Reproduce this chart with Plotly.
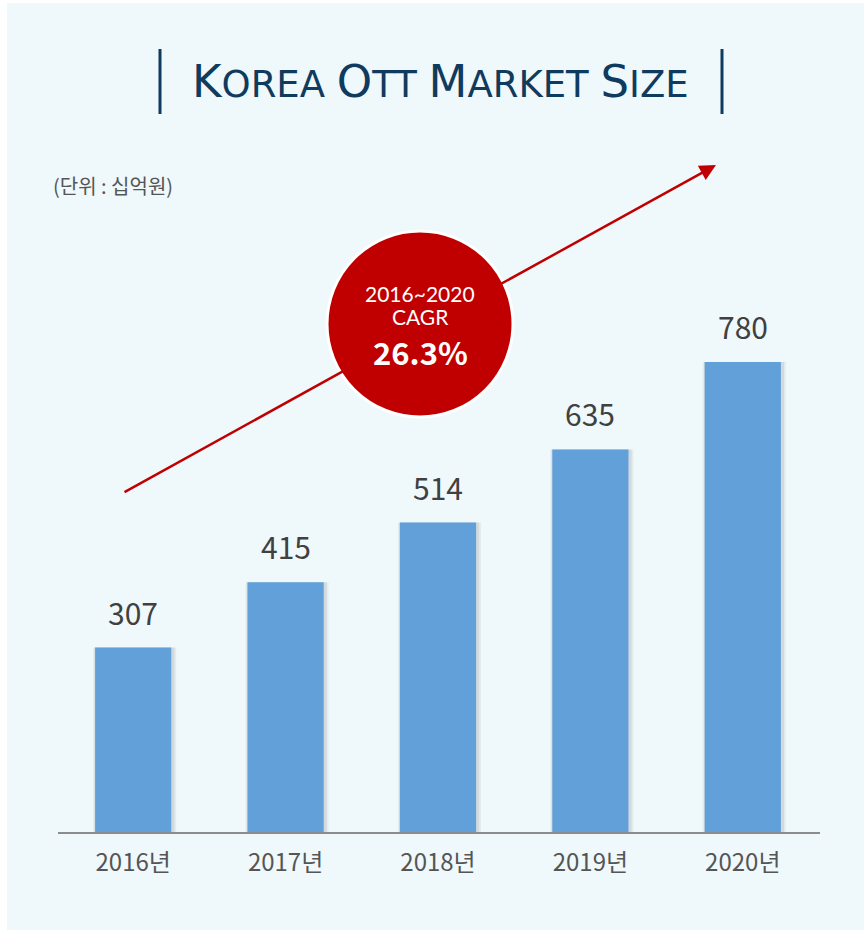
import plotly.graph_objects as go

# ---- data ----
years = ["2016년", "2017년", "2018년", "2019년", "2020년"]
values = [307, 415, 514, 635, 780]
title_text = "KOREA OTT MARKET SIZE"
unit_text = "(단위 : 십억원)"
cagr_period = "2016~2020"
cagr_label = "CAGR"
cagr_value = "26.3%"

W, H = 864, 930
BG = "#eff8fb"
BAR = "#62a0da"
NAVY = "#0f3b5e"
RED = "#c00000"
FONT = "Noto Sans CJK KR"

# geometry (pixels)
x_left, x_right = 57, 819
y_base = 833
y_max = 1150
px_per_unit = 0.604
y_top = y_base - y_max * px_per_unit


def px(x):
    return x / W


def py(y):
    return 1 - y / H


fig = go.Figure()

# soft shadow behind bars (two layers for a blur feel)
fig.add_trace(go.Bar(
    x=years, y=values, width=0.545, marker=dict(color="rgba(0,0,0,0.05)", line=dict(width=0)),
    offset=-0.263, hoverinfo="skip", showlegend=False))
fig.add_trace(go.Bar(
    x=years, y=values, width=0.525, marker=dict(color="rgba(0,0,0,0.07)", line=dict(width=0)),
    offset=-0.255, hoverinfo="skip", showlegend=False))
fig.add_trace(go.Bar(
    x=years, y=values, width=0.5, marker=dict(color=BAR, line=dict(width=0)),
    showlegend=False))

shapes = []
# background panel (white border at top/left)
shapes.append(dict(type="rect", xref="paper", yref="paper", x0=px(7), y0=py(3), x1=px(W), y1=py(H),
                   fillcolor=BG, line=dict(width=0), layer="below"))
# baseline
shapes.append(dict(type="line", xref="paper", yref="paper", x0=px(58), y0=py(y_base),
                   x1=px(820), y1=py(y_base), line=dict(color="#8c8c8c", width=2), layer="above"))
# title bars
for xb in (160, 722):
    shapes.append(dict(type="line", xref="paper", yref="paper", x0=px(xb), y0=py(49),
                       x1=px(xb), y1=py(114), line=dict(color=NAVY, width=3)))

annotations = []
# arrow
ax0, ay0, ax1, ay1 = 123, 493, 716, 165
annotations.append(dict(xref="paper", yref="paper", axref="pixel", ayref="pixel",
                        x=px(ax1), y=py(ay1), ax=ax0 - ax1, ay=ay0 - ay1, text="", showarrow=True,
                        arrowhead=2, arrowsize=1.3, arrowwidth=2.5, arrowcolor=RED))

# CAGR circle (shape drawn above the arrow)
cx, cy, r = 420, 324, 93
shapes.append(dict(type="circle", xref="paper", yref="paper", x0=px(cx - r), y0=py(cy + r),
                   x1=px(cx + r), y1=py(cy - r),
                   fillcolor=RED, line=dict(color="white", width=3), layer="above"))


# title with enlarged initials
def small_caps(s, big=45):
    out = []
    for word in s.split(" "):
        out.append(f"<span style='font-size:{big}px'>{word[0]}</span>{word[1:]}")
    return " ".join(out)


annotations.append(dict(xref="paper", yref="paper", x=px(440), y=py(81), text=small_caps(title_text),
                        showarrow=False, font=dict(family="DejaVu Sans", size=37, color=NAVY),
                        xanchor="center", yanchor="middle"))
annotations.append(dict(xref="paper", yref="paper", x=px(51), y=py(186), text=unit_text, showarrow=False,
                        font=dict(family=FONT, size=20, color="#555555"), xanchor="left", yanchor="middle"))
# circle text
annotations.append(dict(xref="paper", yref="paper", x=px(cx), y=py(293), text=cagr_period, showarrow=False,
                        font=dict(family="Lato", size=21, color="white"), xanchor="center", yanchor="middle"))
annotations.append(dict(xref="paper", yref="paper", x=px(cx), y=py(317), text=cagr_label, showarrow=False,
                        font=dict(family="Lato", size=21, color="white"), xanchor="center", yanchor="middle"))
annotations.append(dict(xref="paper", yref="paper", x=px(cx), y=py(351), text=f"<b>{cagr_value}</b>",
                        showarrow=False, font=dict(family=FONT, size=31, color="white"),
                        xanchor="center", yanchor="middle"))
# value labels
for yr, v in zip(years, values):
    annotations.append(dict(xref="x", yref="y", x=yr, y=v, text=str(v), showarrow=False,
                            yanchor="bottom", yshift=12,
                            font=dict(family=FONT, size=30, color="#404040")))

fig.update_layout(
    width=W, height=H,
    margin=dict(l=0, r=0, t=0, b=0, autoexpand=False),
    paper_bgcolor="white", plot_bgcolor="rgba(0,0,0,0)",
    barmode="overlay", bargap=0.5,
    shapes=shapes, annotations=annotations,
    xaxis=dict(domain=[px(x_left), px(x_right)], showgrid=False, zeroline=False, showline=False,
               automargin=False, ticks="", tickfont=dict(family=FONT, size=24, color="#555555"),
               ticklabelstandoff=13),
    yaxis=dict(domain=[py(y_base), py(y_top)], range=[0, y_max], showgrid=False,
               automargin=False, zeroline=False, showline=False, showticklabels=False),
)

fig.write_html("out.html", config={"displayModeBar": False},
               post_script="document.body.style.margin='0';")
